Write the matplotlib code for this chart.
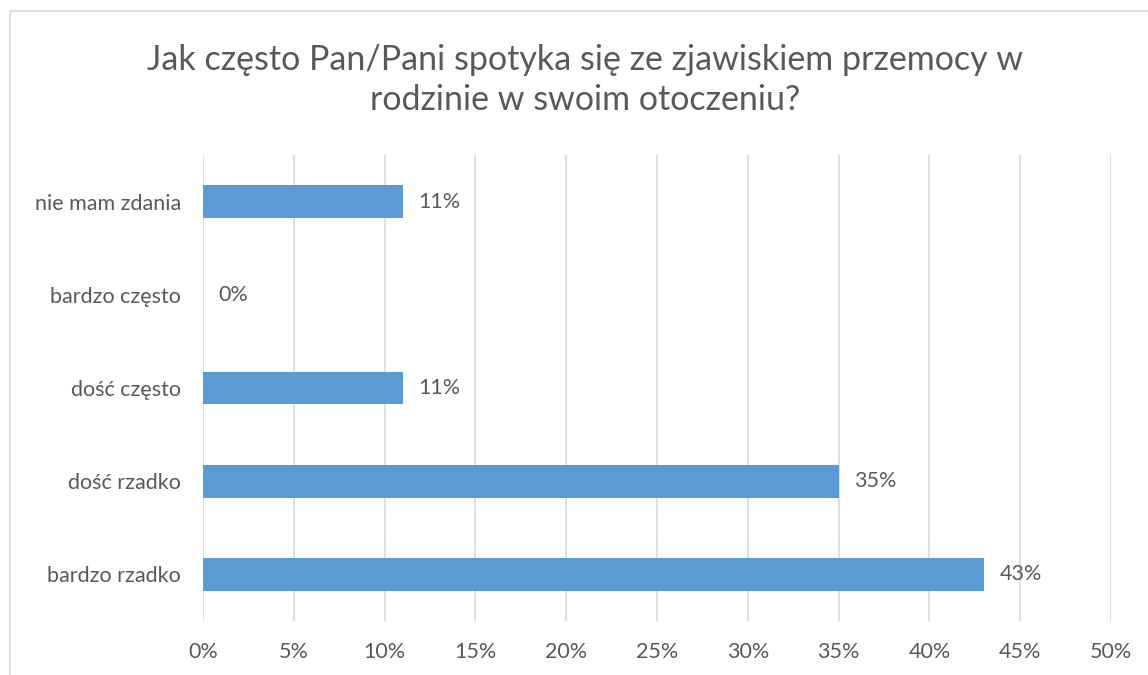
import matplotlib.pyplot as plt
from matplotlib.patches import Rectangle
from matplotlib.ticker import PercentFormatter

plt.rcParams['font.family'] = ['Lato', 'DejaVu Sans']

categories = ['bardzo rzadko', 'dość rzadko', 'dość często', 'bardzo często', 'nie mam zdania']
shares = [43, 35, 11, 0, 11]
title = 'Jak często Pan/Pani spotyka się ze zjawiskiem przemocy w\nrodzinie w swoim otoczeniu?'

text_color = '#595959'
bar_color = '#5B9BD5'
grid_color = '#D9D9D9'

fig = plt.figure(figsize=(11.48, 6.75), dpi=100)

# chart frame, cut off at the right and bottom edges
fig.patches.append(Rectangle((10 / 1148, -0.1), 1.2, 1 - 11 / 675 + 0.1,
                             transform=fig.transFigure, fill=False,
                             edgecolor='#D9D9D9', linewidth=1.2))

ax = fig.add_axes([203 / 1148, 54 / 675, 908 / 1148, 466 / 675])

ypos = range(len(categories))
ax.barh(ypos, shares, height=0.35, color=bar_color, zorder=3)
for y, v in zip(ypos, shares):
    ax.text(v + 0.85, y, f'{v}%', va='center', ha='left',
            fontsize=15.5, color=text_color)

ax.set_xlim(0, 50)
ax.set_ylim(-0.5, len(categories) - 0.5)
ax.set_xticks(range(0, 51, 5))
ax.xaxis.set_major_formatter(PercentFormatter(decimals=0))
ax.set_yticks(list(ypos))
ax.set_yticklabels(categories)
ax.tick_params(axis='both', length=0, labelsize=15.5, labelcolor=text_color)
ax.tick_params(axis='x', pad=15)
ax.tick_params(axis='y', pad=16)
ax.grid(axis='x', color=grid_color, linewidth=1.2, zorder=0)
for s in ax.spines.values():
    s.set_visible(False)

fig.text(585 / 1148, 1 - 80 / 675, title, ha='center', va='center',
         fontsize=24.5, color=text_color, linespacing=1.3)

fig.savefig('out.png', dpi=100)
